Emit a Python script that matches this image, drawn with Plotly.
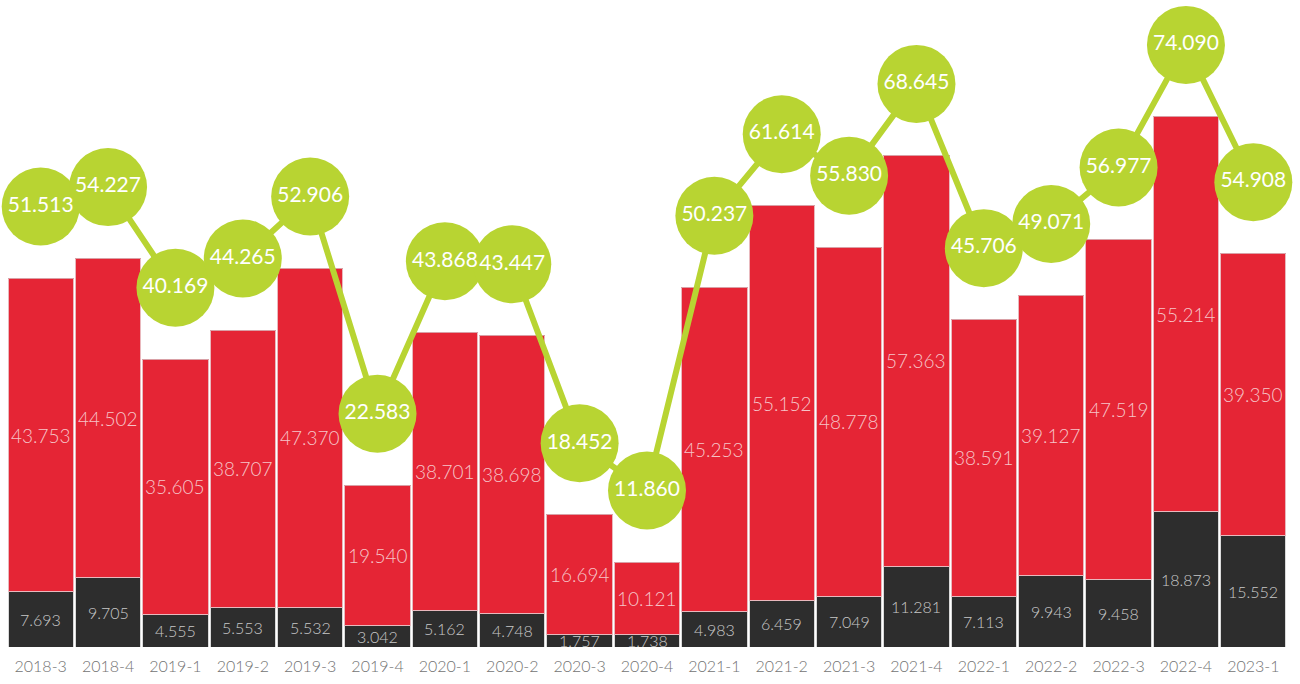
import plotly.graph_objects as go

quarters = ["2018-3", "2018-4", "2019-1", "2019-2", "2019-3", "2019-4", "2020-1", "2020-2",
            "2020-3", "2020-4", "2021-1", "2021-2", "2021-3", "2021-4", "2022-1", "2022-2",
            "2022-3", "2022-4", "2023-1"]
base_vals = [7.693, 9.705, 4.555, 5.553, 5.532, 3.042, 5.162, 4.748, 1.757, 1.738,
             4.983, 6.459, 7.049, 11.281, 7.113, 9.943, 9.458, 18.873, 15.552]
main_vals = [43.753, 44.502, 35.605, 38.707, 47.370, 19.540, 38.701, 38.698, 16.694, 10.121,
             45.253, 55.152, 48.778, 57.363, 38.591, 39.127, 47.519, 55.214, 39.350]
total_vals = [51.513, 54.227, 40.169, 44.265, 52.906, 22.583, 43.868, 43.447, 18.452, 11.860,
              50.237, 61.614, 55.830, 68.645, 45.706, 49.071, 56.977, 74.090, 54.908]

# remainder on top of the two main segments
rest_vals = [round(t - b - m, 3) for t, b, m in zip(total_vals, base_vals, main_vals)]

RED = "#e52535"
DARK = "#2d2d2d"
GREEN = "#b8d432"
FONT = "Lato"

fig = go.Figure()
fig.add_bar(x=quarters, y=base_vals, marker=dict(color=DARK, line=dict(color="#d9d9d9", width=1)),
            hoverinfo="y")
fig.add_bar(x=quarters, y=main_vals, marker=dict(color=RED, line=dict(color="#e9b8bd", width=1)),
            hoverinfo="y")
fig.add_bar(x=quarters, y=rest_vals, marker=dict(color="#a8121f", line=dict(color="#d9a0a6", width=1)),
            hoverinfo="y")

fig.add_scatter(x=quarters, y=total_vals, yaxis="y2", mode="lines+markers+text",
                line=dict(color=GREEN, width=6),
                marker=dict(color=GREEN, size=78, line=dict(width=0)),
                text=[f"{v:.3f}" for v in total_vals], textposition="middle center",
                textfont=dict(family=FONT, size=21, color="white", weight=400),
                hoverinfo="y", cliponaxis=False)

annotations = []
for q, b, m in zip(quarters, base_vals, main_vals):
    annotations.append(dict(x=q, y=b / 2, text=f"{b:.3f}", showarrow=False, xref="x", yref="y",
                            font=dict(family=FONT, size=16, color="#c8c8c8", weight=300)))
    annotations.append(dict(x=q, y=b + m / 2, text=f"{m:.3f}", showarrow=False, xref="x", yref="y",
                            font=dict(family=FONT, size=19, color="#f6c4c8", weight=300)))

scale_top = 90.36
fig.update_layout(
    barmode="stack",
    bargap=0.03,
    width=1300, height=684,
    margin=dict(l=7, r=13, t=0, b=37),
    paper_bgcolor="white", plot_bgcolor="white",
    showlegend=False,
    annotations=annotations,
    xaxis=dict(type="category", range=[-0.5, len(quarters) - 0.5], showgrid=False,
               zeroline=False, showline=False, ticks="", ticklabelstandoff=8,
               tickfont=dict(family=FONT, size=16, color="#737373", weight=300)),
    yaxis=dict(range=[0, scale_top], visible=False, showgrid=False),
    yaxis2=dict(range=[-10, scale_top - 10], overlaying="y", visible=False, showgrid=False),
)

fig.write_html("out.html")
